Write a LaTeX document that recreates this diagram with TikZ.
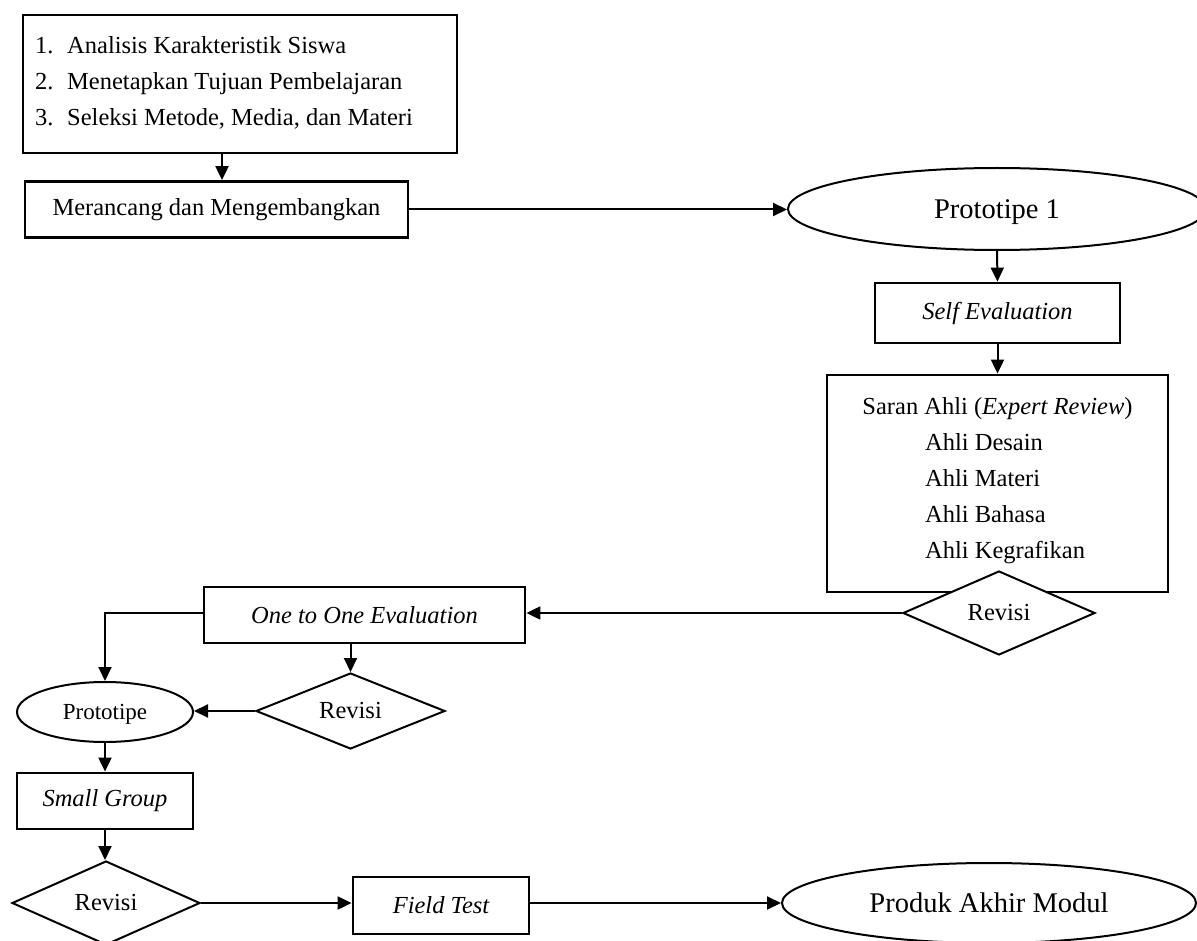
\documentclass[tikz,border=0pt]{standalone}
\usepackage{fontspec}
\setmainfont{Liberation Serif}
\usetikzlibrary{shapes.geometric,arrows.meta}
\begin{document}
\begin{tikzpicture}[x=1pt,y=-1pt,
  base/.style={font=\fontsize{24.5}{30}\selectfont},
  box/.style={base, draw, line width=2.8pt, rectangle, inner sep=0pt, fill=white},
  oval/.style={draw, line width=2pt, ellipse, inner sep=0pt, fill=white, text depth=0pt},
  dia/.style={base, draw, line width=2pt, diamond, aspect=2.3, fill=white, inner sep=0pt},
  txt/.style={base, inner sep=0pt, anchor=base west},
  arr/.style={line width=2pt, -{Triangle[length=14pt,width=13pt]}},
  ]
\useasboundingbox (0,0) rectangle (1197,941);

% top block
\node[box, minimum width=434pt, minimum height=138pt] (top) at (240,84) {};
\node[txt] (t1) at (35,54) {\makebox[32pt][l]{1.}Analisis Karakteristik Siswa};
\node[txt] (t2) at (35,90) {\makebox[32pt][l]{2.}Menetapkan Tujuan Pembelajaran};
\node[txt] (t3) at (35,126) {\makebox[32pt][l]{3.}Seleksi Metode, Media, dan Materi};
\coordinate (a) at (222,0);

\node[box, minimum width=383pt, minimum height=56pt] (mer) at (216.5,209.5) {Merancang dan Mengembangkan};
\node[oval, minimum width=418pt, minimum height=82pt, font=\fontsize{28.5}{34}\selectfont] (p1) at (997,209) {Prototipe 1};
\node[box, minimum width=245pt, minimum height=60pt, font=\fontsize{24.5}{30}\selectfont\itshape] (self) at (997.5,313) {Self Evaluation};

% expert review block
\node[box, minimum width=341pt, minimum height=217pt] (saran) at (997.5,483.5) {};
\node[base, inner sep=0pt, anchor=base] (s0) at (997.5,414) {Saran Ahli (\textit{Expert Review})};
\node[txt] (s1) at (925,450) {Ahli Desain};
\node[txt] (s2) at (925,486) {Ahli Materi};
\node[txt] (s3) at (925,522) {Ahli Bahasa};
\node[txt] (s4) at (925,558) {Ahli Kegrafikan};
\node[dia, minimum width=192pt, minimum height=84pt] (d1) at (999,613) {Revisi};

% lower part
\node[box, minimum width=321pt, minimum height=56pt, font=\fontsize{24.5}{30}\selectfont\itshape] (oto) at (364.5,615) {One to One Evaluation};
\node[dia, minimum width=189pt, minimum height=76pt] (d2) at (350.5,711) {Revisi};
\node[oval, minimum width=176pt, minimum height=60pt, font=\fontsize{23}{28}\selectfont] (proto) at (105,712) {Prototipe};
\node[box, minimum width=176pt, minimum height=56pt, font=\fontsize{24.5}{30}\selectfont\itshape] (sg) at (105,801) {Small Group};
\node[dia, minimum width=188pt, minimum height=84pt] (d3) at (106,903) {Revisi};
\node[box, minimum width=176pt, minimum height=57pt, font=\fontsize{24.5}{30}\selectfont\itshape] (ft) at (441,905.5) {Field Test};
\node[oval, minimum width=414pt, minimum height=80pt, font=\fontsize{28.5}{34}\selectfont] (prod) at (989,903) {Produk Akhir Modul};

% connectors
\draw[arr] (top.south -| a) -- (mer.north -| a);
\draw[arr] (mer.east) -- (mer.east -| p1.west);
\draw[arr] (p1.south) -- (self.north);
\draw[arr] (self.south) -- (saran.north);
\draw[arr] (d1.west) -- (d1.west -| oto.east);
\draw[arr] (oto.west |- d1.west) -| (proto.north);
\draw[arr] (oto.south -| d2.north) -- (d2.north);
\draw[arr] (d2.west) -- (d2.west -| proto.east);
\draw[arr] (proto.south) -- (sg.north);
\draw[arr] (sg.south) -- (sg.south |- d3.north);
\draw[arr] (d3.east) -- (d3.east -| ft.west);
\draw[arr] (ft.east |- d3.east) -- (prod.west);
\end{tikzpicture}
\end{document}
